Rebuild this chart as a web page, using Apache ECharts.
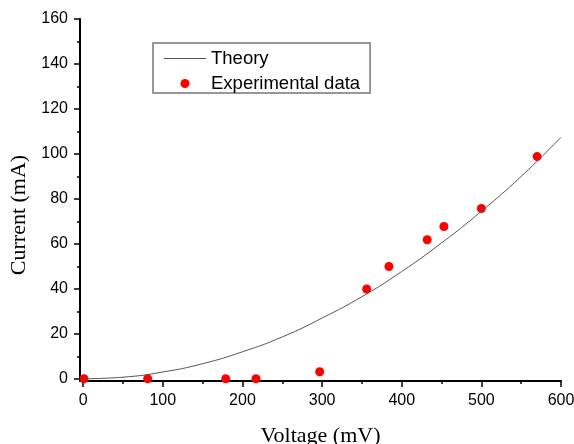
<!DOCTYPE html>
<html>
<head>
<meta charset="utf-8">
<script src="https://cdn.jsdelivr.net/npm/echarts@6/dist/echarts.min.js"></script>
<style>html,body{margin:0;padding:0;background:#fff;}#c{width:574px;height:444px;}</style>
</head>
<body>
<div id="c"></div>
<script>
// Theory curve (mV, mA)
const theoryV = [0, 50, 100, 150, 200, 250, 300, 350, 400, 450, 500, 550, 600];
const theoryI = [0, 0.7, 3.0, 6.7, 12.0, 18.6, 27.0, 36.5, 47.7, 60.4, 74.5, 90.0, 107.4];
// Experimental points
const expV = [1, 81, 179, 217, 297, 356, 384, 432, 453, 500, 570];
const expI = [0, 0, 0, 0, 3.1, 39.9, 49.9, 61.8, 67.7, 75.7, 98.8];
// Tick labels
const xMajor = [0, 100, 200, 300, 400, 500, 600];
const xMinor = [50, 150, 250, 350, 450, 550];
const yMajor = [0, 20, 40, 60, 80, 100, 120, 140, 160];
const yMinor = [10, 30, 50, 70, 90, 110, 130, 150];

const chart = echarts.init(document.getElementById('c'));
const lab = {color: '#000', fontFamily: 'Liberation Sans, Arial, sans-serif', fontSize: 16};
chart.setOption({
  animation: false,
  grid: {left: 80, right: 13, top: 19, bottom: 63, containLabel: false, outerBoundsMode: 'none'},
  legend: {
    orient: 'vertical', left: 153, top: 43,
    padding: [6, 10, 0, 11],
    itemWidth: 42, itemHeight: 9, itemGap: 6, itemTextGap: 7,
    borderColor: '#777', borderWidth: 1.5, borderRadius: 0,
    textStyle: {color: '#000', fontFamily: 'Liberation Sans, Arial, sans-serif', fontSize: 18.5, lineHeight: 17},
    data: [{name: 'Theory', icon: 'path://M0,0 L42,0 L42,1 L0,1 Z', itemStyle: {color: '#555'}}, {name: 'Experimental data', icon: 'circle'}]
  },
  xAxis: [{
    type: 'value', min: -4, max: 600, position: 'bottom',
    name: 'Voltage (mV)', nameLocation: 'middle', nameGap: 44,
    nameTextStyle: {color: '#000', fontFamily: 'Liberation Serif, Times New Roman, serif', fontSize: 22},
    axisLine: {show: true, onZero: false, lineStyle: {color: '#000', width: 2}},
    axisTick: {show: true, inside: false, length: 6, customValues: xMajor, lineStyle: {color: '#000', width: 1.5}},
    axisLabel: Object.assign({margin: 12, customValues: xMajor}, lab),
    splitLine: {show: false}
  }, {
    type: 'value', min: -4, max: 600, position: 'bottom',
    axisLine: {show: false, onZero: false},
    axisTick: {show: true, length: 3, customValues: xMinor, lineStyle: {color: '#000', width: 1.5}},
    axisLabel: {show: false}, splitLine: {show: false}
  }],
  yAxis: [{
    type: 'value', min: -1, max: 160, position: 'left',
    name: 'Current (mA)', nameLocation: 'middle', nameGap: 37, nameRotate: 90,
    nameTextStyle: {color: '#000', fontFamily: 'Liberation Serif, Times New Roman, serif', fontSize: 22, padding: [0, 30, 0, 0]},
    axisLine: {show: true, onZero: false, lineStyle: {color: '#000', width: 2}},
    axisTick: {show: true, length: 6, customValues: yMajor, lineStyle: {color: '#000', width: 1.5}},
    axisLabel: Object.assign({margin: 12, customValues: yMajor}, lab),
    splitLine: {show: false}
  }, {
    type: 'value', min: -1, max: 160, position: 'left',
    axisLine: {show: false, onZero: false},
    axisTick: {show: true, length: 3, customValues: yMinor, lineStyle: {color: '#000', width: 1.5}},
    axisLabel: {show: false}, splitLine: {show: false}
  }],
  series: [{
    name: 'Theory', type: 'line', smooth: true, symbol: 'none',
    xAxisIndex: 0, yAxisIndex: 0,
    lineStyle: {color: '#555', width: 1}, itemStyle: {color: '#555'},
    data: theoryV.map((v, i) => [v, theoryI[i]])
  }, {
    name: 'Experimental data', type: 'scatter', symbol: 'circle', symbolSize: 9,
    xAxisIndex: 0, yAxisIndex: 0,
    itemStyle: {color: '#ff0000', opacity: 1},
    data: expV.map((v, i) => [v, expI[i]])
  }]
});
</script>
</body>
</html>
